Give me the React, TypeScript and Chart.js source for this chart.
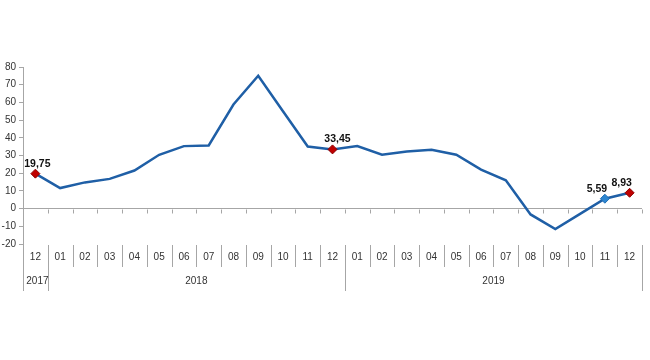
import React, { useEffect, useRef } from 'react';
import { Chart, registerables } from 'chart.js';

Chart.register(...registerables);

const months = ['12', '01', '02', '03', '04', '05', '06', '07', '08', '09', '10', '11', '12', '01', '02', '03', '04', '05', '06', '07', '08', '09', '10', '11', '12'];
const years = ['2017', '2018', '2019'];
const yearSpans = [1, 12, 12];
const values = [19.75, 11.6, 14.8, 16.8, 21.5, 30.4, 35.3, 35.7, 58.8, 75.1, 55.0, 35.1, 33.45, 35.3, 30.4, 32.3, 33.2, 30.4, 22.0, 16.0, -3.3, -11.6, -3.0, 5.59, 8.93];
const labeledPoints = [0, 12, 23, 24];
const redPoints = [0, 12, 24];
const bluePoints = [23];

const FONT = '"Liberation Sans", Arial, sans-serif';
const GRID = '#a6a6a6';

const tablePlugin = {
  id: 'tablePlugin',
  afterDraw(chart: any) {
    const ctx = chart.ctx;
    const x = chart.scales.x;
    const y = chart.scales.y;
    const n = months.length;
    const step = x.getPixelForValue(1) - x.getPixelForValue(0);
    const edge = (i: number) => Math.round(x.getPixelForValue(i) - step / 2) + 0.5;
    const top = chart.chartArea.bottom + 1;
    const y0 = Math.round(y.getPixelForValue(0)) + 0.5;
    ctx.save();
    ctx.strokeStyle = GRID;
    ctx.lineWidth = 1;
    // ticks on zero line
    ctx.beginPath();
    for (let i = 0; i <= n; i++) {
      ctx.moveTo(edge(i), y0);
      ctx.lineTo(edge(i), y0 + 4);
    }
    ctx.stroke();
    // separators
    const yearEdges: number[] = [0];
    yearSpans.forEach((s) => yearEdges.push(yearEdges[yearEdges.length - 1] + s));
    ctx.beginPath();
    for (let i = 0; i <= n; i++) {
      const long = yearEdges.includes(i);
      ctx.moveTo(edge(i), top);
      ctx.lineTo(edge(i), top + (long ? 46 : 22));
    }
    ctx.stroke();
    // labels
    ctx.fillStyle = '#333';
    ctx.font = `10px ${FONT}`;
    ctx.textAlign = 'center';
    ctx.textBaseline = 'middle';
    for (let i = 0; i < n; i++) {
      ctx.fillText(months[i], x.getPixelForValue(i), top + 12);
    }
    for (let k = 0; k < years.length; k++) {
      const cx = (x.getPixelForValue(yearEdges[k]) - step / 2 + x.getPixelForValue(yearEdges[k + 1]) - step / 2) / 2;
      ctx.fillText(years[k], cx + (yearSpans[k] === 1 ? 2 : 0), top + 36);
    }
    // data labels
    const meta = chart.getDatasetMeta(0);
    ctx.fillStyle = '#111';
    ctx.font = `bold 10.5px ${FONT}`;
    ctx.textBaseline = 'alphabetic';
    labeledPoints.forEach((i) => {
      const p = meta.data[i];
      const txt = values[i].toFixed(2).replace('.', ',');
      const dx = i === 0 ? 2 : i === 12 ? 5 : -8;
      ctx.fillText(txt, p.x + dx, p.y - 7);
    });
    ctx.restore();
  },
};

export default function App() {
  const ref = useRef<HTMLCanvasElement | null>(null);
  useEffect(() => {
    if (!ref.current) return;
    const chart = new Chart(ref.current, {
      type: 'line',
      data: {
        labels: months.map((m, i) => `${m}-${i}`),
        datasets: [
          {
            data: values,
            borderColor: '#1f5fa6',
            borderWidth: 2.5,
            tension: 0,
            pointStyle: 'rectRot',
            pointRadius: (c: any) => (redPoints.includes(c.dataIndex) || bluePoints.includes(c.dataIndex) ? 4.5 : 0),
            pointHoverRadius: 0,
            pointBackgroundColor: (c: any) => (bluePoints.includes(c.dataIndex) ? '#2e86d0' : '#c00000'),
            pointBorderColor: (c: any) => (bluePoints.includes(c.dataIndex) ? '#1f6fb5' : '#8b0000'),
            pointBorderWidth: 1,
          },
        ],
      },
      options: {
        animation: false,
        responsive: false,
        layout: { padding: { top: 67, right: 8, bottom: 116, left: 0 } },
        plugins: { legend: { display: false }, tooltip: { enabled: false } },
        scales: {
          x: { type: 'category', offset: true, display: false },
          y: {
            min: -20,
            max: 80,
            ticks: { stepSize: 10, color: '#333', font: { family: FONT, size: 10 }, padding: 3 },
            grid: {
              color: (c: any) => (c.tick && c.tick.value === 0 ? GRID : 'rgba(0,0,0,0)'),
              tickColor: GRID,
              tickLength: 4,
            },
            border: { display: true, color: GRID },
            afterFit: (s: any) => {
              s.width = 23;
            },
          },
        },
      },
      plugins: [tablePlugin],
    });
    return () => chart.destroy();
  }, []);
  return (
    <div style={{ position: 'absolute', left: 0, top: 0, width: 650, height: 360, background: '#fff' }}>
      <canvas ref={ref} width={650} height={360} style={{ width: 650, height: 360 }} />
    </div>
  );
}
